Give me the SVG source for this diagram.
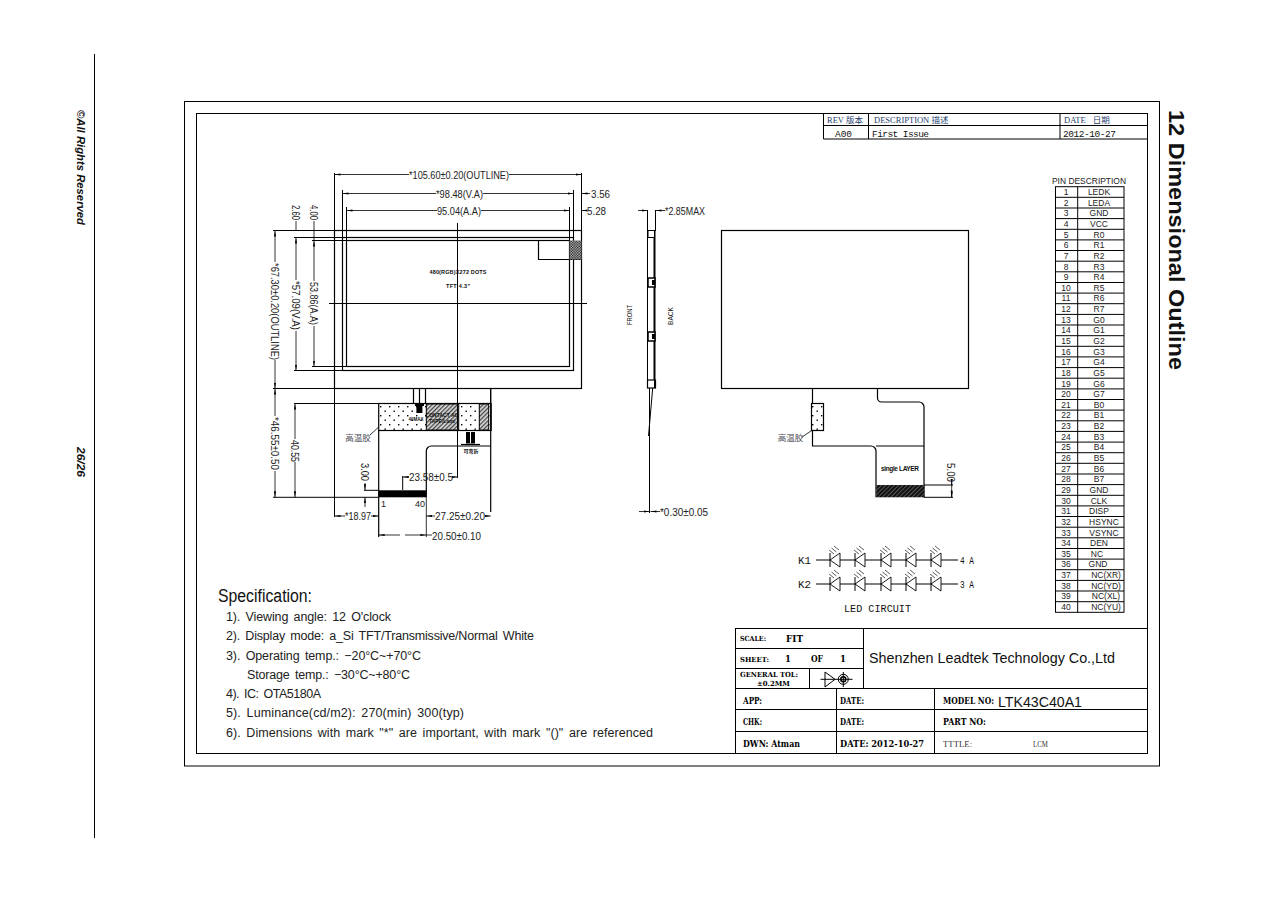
<svg xmlns="http://www.w3.org/2000/svg" width="1286" height="909" viewBox="0 0 1286 909">
<style>
text{font-family:"Liberation Sans",Arial,sans-serif;fill:#111}
.l{fill:none;stroke:#000;stroke-width:1}
.b{fill:none;stroke:#000;stroke-width:1.2}
.dim{fill:none;stroke:#000;stroke-width:.8}
.a{marker-end:url(#arr)}
.d{font-size:11.5px;fill:#222}
.s{font-size:12.5px;fill:#222;word-spacing:2px}
.p{font-size:8.5px;text-anchor:middle;fill:#222}
.t{font-family:"DejaVu Serif","Liberation Serif",serif;font-weight:700;font-size:8.5px;fill:#000}
.r{font-family:"Liberation Serif",serif;font-size:8.5px;fill:#24406e}
.m{font-family:"Liberation Mono",monospace;font-size:9.5px;fill:#111}
.tiny{font-size:5.5px;font-weight:700;text-anchor:middle;fill:#111}
.cj{font-family:"Noto Sans CJK SC",sans-serif;font-size:8.5px;fill:#4a4a55;text-anchor:middle}
</style>
<defs>
<marker id="arr" markerUnits="userSpaceOnUse" markerWidth="7" markerHeight="4" refX="6" refY="2" orient="auto"><path d="M0 .9L6 2L0 3.1z" fill="#000"/></marker>
<pattern id="dots" width="9" height="9" patternUnits="userSpaceOnUse"><rect x="2" y="1" width="1.4" height="1.4" fill="#000"/><rect x="6.5" y="5.5" width="1.4" height="1.4" fill="#000"/></pattern>
<pattern id="hatch" width="3" height="3" patternUnits="userSpaceOnUse" patternTransform="rotate(-45)"><rect width="3" height="3" fill="#ddd"/><rect width="3" height="1.3" fill="#444"/></pattern>
<pattern id="dark" width="3" height="3" patternUnits="userSpaceOnUse" patternTransform="rotate(-45)"><rect width="3" height="3" fill="#111"/><rect width="3" height=".8" fill="#666"/></pattern>
<pattern id="check" width="2.6" height="2.6" patternUnits="userSpaceOnUse"><rect width="2.6" height="2.6" fill="#ccc"/><rect width="1.3" height="1.3" fill="#111"/><rect x="1.3" y="1.3" width="1.3" height="1.3" fill="#111"/></pattern>
<g id="diode"><path d="M-5 0L5 -7V7Z" fill="#fff" stroke="#000" stroke-width=".9"/><path d="M-5 -7V7" stroke="#000" stroke-width="1"/><path d="M-6 -10L-1 -6M-3.5 -12L1.5 -8M-1 -14L4 -10" stroke="#333" stroke-width=".8"/></g>
</defs>
<rect width="1286" height="909" fill="#fff"/>

<g id="page-margin">
<path class="l" d="M94.500 54V838"/>
<text transform="translate(77,110) rotate(90)" font-size="11" font-weight="700" font-style="italic" fill="#333" lengthAdjust="spacingAndGlyphs" textLength="115">©All Rights Reserved</text>
<text transform="translate(77,447) rotate(90)" font-size="11" font-weight="700" font-style="italic" fill="#333" lengthAdjust="spacingAndGlyphs" textLength="30">26/26</text>
<text transform="translate(1169,110) rotate(90)" font-size="21.500" font-weight="700" lengthAdjust="spacingAndGlyphs" textLength="260">12 Dimensional Outline</text>
</g>

<g id="frame">
<rect class="l" x="184.500" y="101.500" width="975" height="664.500"/>
<rect class="l" x="196.500" y="113.500" width="951" height="640"/>
</g>

<g id="revision-table">
<path class="l" d="M823.500 113.500V139H1147.500M823.500 125.500H1147.500M868.500 113.500V139M1060 113.500V139"/>
<text class="r" x="827" y="123">REV <tspan font-family="Noto Sans CJK SC">版本</tspan></text>
<text class="r" x="874" y="123">DESCRIPTION <tspan font-family="Noto Sans CJK SC">描述</tspan></text>
<text class="r" x="1064" y="123">DATE  <tspan dx="5" font-family="Noto Sans CJK SC">日期</tspan></text>
<text class="m" x="835" y="137" textLength="17">A00</text>
<text class="m" x="872" y="137" textLength="57">First Issue</text>
<text class="m" x="1063" y="137" textLength="53">2012-10-27</text>
</g>

<g id="front-view">
<rect class="b" x="334.500" y="230.500" width="247" height="158"/>
<rect class="b" x="342.500" y="237.500" width="231" height="133"/>
<rect class="b" x="346.500" y="240.500" width="223" height="126"/>
<path class="b" d="M538.500 240.500V259.500H581.500"/>
<rect x="569.500" y="240.500" width="12" height="19" fill="url(#check)"/>
<path class="l" d="M329 303.500H587"/>
<text class="tiny" x="458" y="273.500" textLength="57">480(RGB)X272 DOTS</text>
<text class="tiny" x="458" y="288" textLength="24">TFT 4.3"</text>
</g>

<g id="fpc-front">
<path class="b" d="M413.500 388V403M419.500 388V403M425.500 388V403"/>
<rect x="378.700" y="403.500" width="112.500" height="27" fill="url(#dots)" stroke="#000" stroke-width="1.200"/>
<rect x="426.300" y="404" width="32.400" height="26" fill="url(#hatch)" stroke="#000"/>
<rect x="479.300" y="404" width="9.400" height="26" fill="url(#hatch)" stroke="#000"/>
<path d="M415 403h9v3h-1.600v7h-6v-7H415z" fill="#000"/>
<text class="tiny" x="416" y="420.500" style="font-size:4.500px">40MAX</text>
<text class="tiny" x="442" y="417" style="font-size:5px">CONTACT AG</text>
<text class="tiny" x="442" y="423" style="font-size:5px">TAPE/Lami</text>
<path class="b" d="M378.700 430.500V537M426.300 497V451a5 5 0 0 1 5 -5H490.700M490.700 388V512"/>
<rect x="378.700" y="490.300" width="47.600" height="7" fill="#000"/>
<text class="d" x="381" y="507" style="font-size:9px">1</text>
<text class="d" x="415" y="507" style="font-size:9px">40</text>
<path d="M466 432h9v11.500h-9z" fill="#000"/>
<path d="M470.500 432V443" stroke="#fff" stroke-width="1"/>
<path d="M461 444.500H480" stroke="#000" stroke-width="1.200"/>
<text class="tiny" x="471" y="453" style="font-size:5px;font-family:'Noto Sans CJK SC',sans-serif">可弯折</text>
<path class="dim" d="M370 435L378.700 427"/>
<text class="cj" x="358" y="441">高温胶</text>
</g>

<g id="side-view">
<path class="l" d="M647.500 230.500V388M654.500 230.500V388"/>
<path d="M654.500 238V380" stroke="#000" stroke-width="2"/>
<path class="l" d="M647.500 210V231M655.500 210V231"/>
<rect class="l" x="648" y="230.500" width="7" height="7"/>
<rect x="648" y="278" width="7" height="9" fill="#fff" stroke="#000" stroke-width="1.500"/>
<rect x="652" y="280" width="3" height="5" fill="#000"/>
<rect x="648" y="332" width="7" height="9" fill="#fff" stroke="#000" stroke-width="1.500"/>
<rect x="652" y="334" width="3" height="5" fill="#000"/>
<rect class="b" x="647.500" y="380" width="8" height="8"/>
<path class="l" d="M649.500 388V513M652.700 388L648.500 436"/>
<text transform="translate(632,325) rotate(-90)" font-size="8" lengthAdjust="spacingAndGlyphs" textLength="20">FRONT</text>
<text transform="translate(673,325) rotate(-90)" font-size="8" lengthAdjust="spacingAndGlyphs" textLength="18">BACK</text>
</g>

<g id="back-view">
<rect class="b" x="721.500" y="230.500" width="247" height="158"/>
<path class="b" d="M812.500 388V446H871a5 5 0 0 1 5 5V497.300M877.500 388V398a4 4 0 0 0 4 4H919a5 5 0 0 1 5 5V497.300M876 446H924"/>
<rect x="811.500" y="403.500" width="12" height="27" fill="#fff" stroke="#000" stroke-width="1.200"/>
<rect x="811.500" y="403.500" width="12" height="27" fill="url(#dots)"/>
<rect x="876.300" y="485" width="48" height="12.300" fill="url(#dark)"/>
<path class="l" d="M924 485H953M924 497.300H953"/>
<text class="tiny" x="900" y="470.500" style="font-size:6.500px" textLength="38">single LAYER</text>
<path class="dim" d="M802 437L812.500 430"/>
<text class="cj" x="790.500" y="441">高温胶</text>
</g>

<g id="dimensions">
<path class="l" d="M334.500 173V230M581.500 173V230M334.500 388V517M342.500 190V237M573.500 190V237M346.500 207V240M569.500 207V240M581.500 190V214M457.500 223V478M273 230.500H334M273 388.500H334M294 237.500H342M312 240.500H346M294 370.500H342M312 366.500H346M294 403.500H378M273 497.300H378M490.700 388V403"/>
<path class="dim a" d="M409 174.500H334.500"/><path class="dim a" d="M509 174.500H581.500"/>
<text class="d" x="409" y="179" lengthAdjust="spacingAndGlyphs" textLength="100">*105.60±0.20(OUTLINE)</text>
<path class="dim a" d="M436 193.500H342.500"/><path class="dim a" d="M483 193.500H573.500"/>
<text class="d" x="436" y="197.500" lengthAdjust="spacingAndGlyphs" textLength="47">*98.48(V.A)</text>
<path class="dim a" d="M437 210.500H346.500"/><path class="dim a" d="M481 210.500H569.500"/>
<text class="d" x="437" y="215" lengthAdjust="spacingAndGlyphs" textLength="44">95.04(A.A)</text>
<path class="dim a" d="M590 193.500H581.500"/>
<text class="d" x="591" y="197.500" lengthAdjust="spacingAndGlyphs" textLength="19">3.56</text>
<path class="dim a" d="M587 210.500H581.500"/>
<text class="d" x="587" y="215" lengthAdjust="spacingAndGlyphs" textLength="19">5.28</text>
<path class="dim" d="M296 221V230M314 221V240"/>
<text class="d" transform="translate(292,205) rotate(90)" lengthAdjust="spacingAndGlyphs" textLength="15">2.60</text>
<text class="d" transform="translate(310,205) rotate(90)" lengthAdjust="spacingAndGlyphs" textLength="15">4.00</text>
<path class="dim a" d="M275 262V230.500"/><path class="dim a" d="M275 360V388.500"/>
<text class="d" transform="translate(271,263) rotate(90)" lengthAdjust="spacingAndGlyphs" textLength="97">*67.30±0.20(OUTLINE)</text>
<path class="dim a" d="M296 280V237.500"/><path class="dim a" d="M296 331V370.500"/>
<text class="d" transform="translate(292,281) rotate(90)" lengthAdjust="spacingAndGlyphs" textLength="49">*57.09(V.A)</text>
<path class="dim a" d="M314 281V240.500"/><path class="dim a" d="M314 326V366.500"/>
<text class="d" transform="translate(310,282) rotate(90)" lengthAdjust="spacingAndGlyphs" textLength="43">53.86(A.A)</text>
<path class="dim a" d="M275 416V388.500"/><path class="dim a" d="M275 471V497.300"/>
<text class="d" transform="translate(271,417) rotate(90)" lengthAdjust="spacingAndGlyphs" textLength="53">*46.55±0.50</text>
<path class="dim a" d="M295 439V403.500"/><path class="dim a" d="M295 462V497.300"/>
<text class="d" transform="translate(291,440) rotate(90)" lengthAdjust="spacingAndGlyphs" textLength="22">40.55</text>
<path class="dim a" d="M365 483V490.300"/><path class="dim a" d="M365 507V497.300"/>
<path class="l" d="M364 490.300H378"/>
<text class="d" transform="translate(361,463) rotate(90)" lengthAdjust="spacingAndGlyphs" textLength="18">3.00</text>
<path class="l" d="M402.700 476V490"/>
<path class="dim a" d="M409 477H402.700"/><path class="dim a" d="M453 477H457.500"/>
<text class="d" x="409" y="481" lengthAdjust="spacingAndGlyphs" textLength="44">23.58±0.5</text>
<path class="dim a" d="M345 516H334.500"/><path class="dim a" d="M371 516H378.700"/>
<text class="d" x="345" y="520" lengthAdjust="spacingAndGlyphs" textLength="26">*18.97</text>
<path class="dim a" d="M435 516H426.300"/><path class="dim a" d="M485 516H490.700"/>
<text class="d" x="435" y="520" lengthAdjust="spacingAndGlyphs" textLength="50">27.25±0.20</text>
<path class="dim a" d="M400 535H378.700"/><path class="dim a" d="M405 535H426.300"/>
<path class="dim" d="M426.300 535H432M426.300 497V537"/>
<text class="d" x="432" y="539.500" lengthAdjust="spacingAndGlyphs" textLength="49">20.50±0.10</text>
<path class="dim a" d="M638 210.500H647.500"/><path class="dim a" d="M665 210.500H655.500"/>
<text class="d" x="665" y="214.500" lengthAdjust="spacingAndGlyphs" textLength="40">*2.85MAX</text>
<path class="dim a" d="M639 511.500H649.500"/><path class="dim a" d="M660 511.500H650.500"/>
<text class="d" x="660" y="515.500" lengthAdjust="spacingAndGlyphs" textLength="48">*0.30±0.05</text>
<path class="dim a" d="M951.700 483V485"/><path class="dim a" d="M951.700 490V497.300"/>
<path class="dim" d="M951.700 482V497"/>
<text class="d" transform="translate(947,463) rotate(90)" lengthAdjust="spacingAndGlyphs" textLength="19">5.00</text>
</g>

<g id="led-circuit">
<path class="l" d="M816 560H958M816 584H958"/>
<use href="#diode" x="835" y="560"/><use href="#diode" x="860" y="560"/><use href="#diode" x="886" y="560"/><use href="#diode" x="911" y="560"/><use href="#diode" x="936" y="560"/>
<use href="#diode" x="835" y="584"/><use href="#diode" x="860" y="584"/><use href="#diode" x="886" y="584"/><use href="#diode" x="911" y="584"/><use href="#diode" x="936" y="584"/>
<text class="m" x="798" y="564" style="font-size:11px" lengthAdjust="spacingAndGlyphs" textLength="13">K1</text>
<text class="m" x="798" y="588" style="font-size:11px" lengthAdjust="spacingAndGlyphs" textLength="13">K2</text>
<text class="m" x="960" y="564" style="font-size:11px" lengthAdjust="spacingAndGlyphs" textLength="14">4 A</text>
<text class="m" x="960" y="588" style="font-size:11px" lengthAdjust="spacingAndGlyphs" textLength="14">3 A</text>
<text class="m" x="844" y="612" style="font-size:11px" lengthAdjust="spacingAndGlyphs" textLength="67">LED CIRCUIT</text>
</g>

<g id="pin-table">
<text class="p" x="1089" y="184" lengthAdjust="spacingAndGlyphs" textLength="74">PIN  DESCRIPTION</text>
<rect class="l" x="1055.500" y="186.700" width="68.500" height="425.600"/>
<path class="l" d="M1077.700 186.700V612.300M1055.500 197.300H1124M1055.500 208H1124M1055.500 218.600H1124M1055.500 229.300H1124M1055.500 239.900H1124M1055.500 250.500H1124M1055.500 261.200H1124M1055.500 271.800H1124M1055.500 282.500H1124M1055.500 293.100H1124M1055.500 303.700H1124M1055.500 314.400H1124M1055.500 325H1124M1055.500 335.700H1124M1055.500 346.300H1124M1055.500 356.900H1124M1055.500 367.600H1124M1055.500 378.200H1124M1055.500 388.900H1124M1055.500 399.500H1124M1055.500 410.100H1124M1055.500 420.800H1124M1055.500 431.400H1124M1055.500 442.100H1124M1055.500 452.700H1124M1055.500 463.300H1124M1055.500 474H1124M1055.500 484.600H1124M1055.500 495.300H1124M1055.500 505.900H1124M1055.500 516.500H1124M1055.500 527.200H1124M1055.500 537.800H1124M1055.500 548.500H1124M1055.500 559.100H1124M1055.500 569.700H1124M1055.500 580.400H1124M1055.500 591H1124M1055.500 601.700H1124"/>
<g>
<text class="p" x="1066" y="195">1</text><text class="p" x="1099" y="195">LEDK</text>
<text class="p" x="1066" y="205.600">2</text><text class="p" x="1099" y="205.600">LEDA</text>
<text class="p" x="1066" y="216.300">3</text><text class="p" x="1099" y="216.300">GND</text>
<text class="p" x="1066" y="226.900">4</text><text class="p" x="1099" y="226.900">VCC</text>
<text class="p" x="1066" y="237.600">5</text><text class="p" x="1099" y="237.600">R0</text>
<text class="p" x="1066" y="248.200">6</text><text class="p" x="1099" y="248.200">R1</text>
<text class="p" x="1066" y="258.800">7</text><text class="p" x="1099" y="258.800">R2</text>
<text class="p" x="1066" y="269.500">8</text><text class="p" x="1099" y="269.500">R3</text>
<text class="p" x="1066" y="280.100">9</text><text class="p" x="1099" y="280.100">R4</text>
<text class="p" x="1066" y="290.800">10</text><text class="p" x="1099" y="290.800">R5</text>
<text class="p" x="1066" y="301.400">11</text><text class="p" x="1099" y="301.400">R6</text>
<text class="p" x="1066" y="312">12</text><text class="p" x="1099" y="312">R7</text>
<text class="p" x="1066" y="322.700">13</text><text class="p" x="1099" y="322.700">G0</text>
<text class="p" x="1066" y="333.300">14</text><text class="p" x="1099" y="333.300">G1</text>
<text class="p" x="1066" y="344">15</text><text class="p" x="1099" y="344">G2</text>
<text class="p" x="1066" y="354.600">16</text><text class="p" x="1099" y="354.600">G3</text>
<text class="p" x="1066" y="365.200">17</text><text class="p" x="1099" y="365.200">G4</text>
<text class="p" x="1066" y="375.900">18</text><text class="p" x="1099" y="375.900">G5</text>
<text class="p" x="1066" y="386.500">19</text><text class="p" x="1099" y="386.500">G6</text>
<text class="p" x="1066" y="397.200">20</text><text class="p" x="1099" y="397.200">G7</text>
<text class="p" x="1066" y="407.800">21</text><text class="p" x="1099" y="407.800">B0</text>
<text class="p" x="1066" y="418.400">22</text><text class="p" x="1099" y="418.400">B1</text>
<text class="p" x="1066" y="429.100">23</text><text class="p" x="1099" y="429.100">B2</text>
<text class="p" x="1066" y="439.700">24</text><text class="p" x="1099" y="439.700">B3</text>
<text class="p" x="1066" y="450.400">25</text><text class="p" x="1099" y="450.400">B4</text>
<text class="p" x="1066" y="461">26</text><text class="p" x="1099" y="461">B5</text>
<text class="p" x="1066" y="471.600">27</text><text class="p" x="1099" y="471.600">B6</text>
<text class="p" x="1066" y="482.300">28</text><text class="p" x="1099" y="482.300">B7</text>
<text class="p" x="1066" y="492.900">29</text><text class="p" x="1099" y="492.900">GND</text>
<text class="p" x="1066" y="503.600">30</text><text class="p" x="1099" y="503.600">CLK</text>
<text class="p" x="1066" y="514.200">31</text><text class="p" x="1099" y="514.200">DISP</text>
<text class="p" x="1066" y="524.800">32</text><text class="p" x="1104" y="524.800">HSYNC</text>
<text class="p" x="1066" y="535.500">33</text><text class="p" x="1104" y="535.500">VSYNC</text>
<text class="p" x="1066" y="546.100">34</text><text class="p" x="1099" y="546.100">DEN</text>
<text class="p" x="1066" y="556.800">35</text><text class="p" x="1097" y="556.800">NC</text>
<text class="p" x="1066" y="567.400">36</text><text class="p" x="1098" y="567.400">GND</text>
<text class="p" x="1066" y="578">37</text><text class="p" x="1106" y="578">NC(XR)</text>
<text class="p" x="1066" y="588.700">38</text><text class="p" x="1106" y="588.700">NC(YD)</text>
<text class="p" x="1066" y="599.300">39</text><text class="p" x="1106" y="599.300">NC(XL)</text>
<text class="p" x="1066" y="610">40</text><text class="p" x="1106" y="610">NC(YU)</text>
</g>
</g>

<g id="specification">
<text x="218" y="602" font-size="18" fill="#333" lengthAdjust="spacingAndGlyphs" textLength="94">Specification:</text>
<text class="s" x="226" y="621" textLength="165">1). Viewing angle: 12 O'clock</text>
<text class="s" x="226" y="640" textLength="308">2). Display mode: a_Si TFT/Transmissive/Normal White</text>
<text class="s" x="226" y="660" textLength="195">3). Operating temp.: −20°C~+70°C</text>
<text class="s" x="247" y="679" textLength="163">Storage temp.: −30°C~+80°C</text>
<text class="s" x="226" y="698" textLength="95">4). IC: OTA5180A</text>
<text class="s" x="226" y="717" textLength="238">5). Luminance(cd/m2): 270(min) 300(typ)</text>
<text class="s" x="226" y="737" textLength="427">6). Dimensions with mark "*" are important, with mark "()" are referenced</text>
</g>

<g id="title-block">
<rect class="l" x="735.500" y="628.500" width="412" height="125"/>
<path class="l" d="M863.500 628.500V688.500M735.500 648.500H863.500M735.500 668.500H863.500M735.500 688.500H1147.500M735.500 709.500H1147.500M735.500 731.500H1147.500M809.500 668.500V688.500M836.500 688.500V753.500M934.500 688.500V753.500"/>
<path class="l" d="M820.500 679.300H852.500M825 672L835 679.300L825 687Z"/>
<circle class="l" cx="843.300" cy="679.300" r="5"/><circle cx="843.300" cy="679.300" r="2.500" fill="none" stroke="#000" stroke-width="1.500"/><path class="l" d="M843.300 672V687"/>
<text class="t" x="740" y="641" style="font-size:7px" lengthAdjust="spacingAndGlyphs" textLength="26">SCALE:</text>
<text class="t" x="786" y="641.500" lengthAdjust="spacingAndGlyphs" textLength="17">FIT</text>
<text class="t" x="740" y="662" style="font-size:7px" lengthAdjust="spacingAndGlyphs" textLength="29">SHEET:</text>
<text class="t" x="785" y="662">1</text>
<text class="t" x="811" y="662" lengthAdjust="spacingAndGlyphs" textLength="12">OF</text>
<text class="t" x="840" y="662">1</text>
<text class="t" x="740" y="677" style="font-size:7px" lengthAdjust="spacingAndGlyphs" textLength="58">GENERAL TOL:</text>
<text class="t" x="757" y="686" style="font-size:7px" lengthAdjust="spacingAndGlyphs" textLength="33">±0.2MM</text>
<text x="869" y="663" font-size="14" fill="#333" lengthAdjust="spacingAndGlyphs" textLength="246">Shenzhen Leadtek Technology Co.,Ltd</text>
<text class="t" x="743" y="704" lengthAdjust="spacingAndGlyphs" textLength="19">APP:</text>
<text class="t" x="840" y="704" lengthAdjust="spacingAndGlyphs" textLength="24">DATE:</text>
<text class="t" x="943" y="704" lengthAdjust="spacingAndGlyphs" textLength="51">MODEL NO:</text>
<text x="998" y="707" font-size="14" fill="#444" lengthAdjust="spacingAndGlyphs" textLength="84">LTK43C40A1</text>
<text class="t" x="743" y="725" lengthAdjust="spacingAndGlyphs" textLength="19">CHK:</text>
<text class="t" x="840" y="725" lengthAdjust="spacingAndGlyphs" textLength="24">DATE:</text>
<text class="t" x="943" y="725" lengthAdjust="spacingAndGlyphs" textLength="43">PART NO:</text>
<text class="t" x="743" y="747" lengthAdjust="spacingAndGlyphs" textLength="57">DWN: Atman</text>
<text class="t" x="840" y="747" lengthAdjust="spacingAndGlyphs" textLength="84">DATE: 2012-10-27</text>
<text class="r" x="943" y="747" textLength="29" style="fill:#333">TTTLE:</text>
<text class="r" x="1033" y="747" lengthAdjust="spacingAndGlyphs" textLength="15" style="fill:#333">LCM</text>
</g>
</svg>
